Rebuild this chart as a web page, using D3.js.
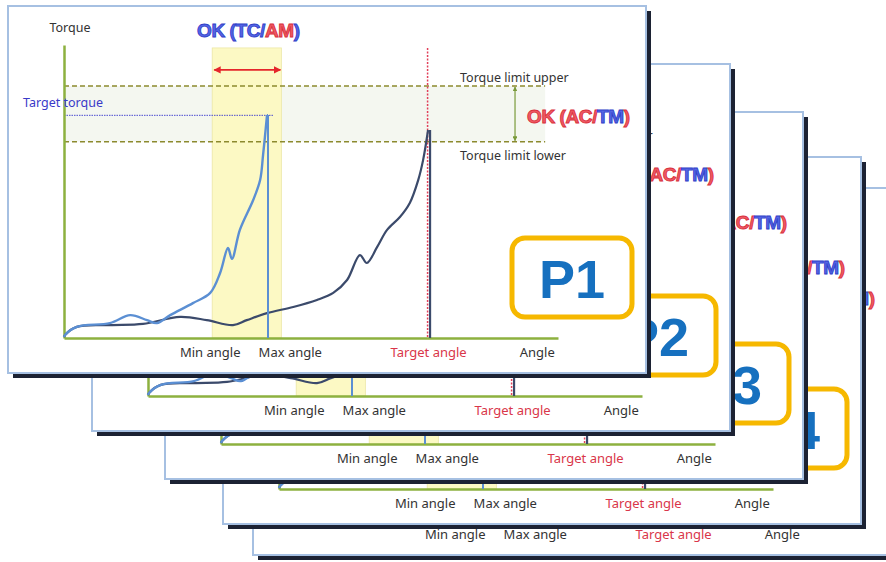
<!DOCTYPE html>
<html>
<head>
<meta charset="utf-8">
<script src="https://cdn.jsdelivr.net/npm/d3@7"></script>
<style>
body { margin: 0; background: #fff; }
</style>
</head>
<body>
<script>
var width = 886,
    height = 562;

// tightening curves, angle (0-100) vs torque (0-100)
var tcAmAngle  = [0, 0.2, 2.6, 9.3, 13.4, 16.8, 18.8, 21.5, 26.1, 29.6, 31.6, 33.2, 34.0, 35.6, 38.3, 39.7, 40.3, 41.1];
var tcAmTorque = [0.3, 1.0, 3.8, 5.1, 7.8, 6.1, 5.1, 7.8, 11.9, 15.4, 22.2, 30.7, 27.0, 36.9, 47.1, 53.9, 62.5, 76.1];

var acTmAngle  = [0, 0.2, 2.6, 9.3, 16.0, 23.5, 28.9, 34.2, 37.0, 41.1, 46.4, 51.2, 54.5, 57.3, 59.9, 61.3, 63.4, 65.4, 68.0, 70.0, 71.7, 72.7, 73.7];
var acTmTorque = [0.3, 1.0, 3.8, 4.4, 4.8, 7.2, 6.1, 4.4, 6.1, 8.5, 10.6, 13.0, 15.4, 19.8, 28.3, 25.6, 31.1, 36.9, 41.3, 46.1, 53.9, 60.8, 71.0];

var minAngle = 30, maxAngle = 44, targetAngle = 73.6, endAngle = 97.4;
var tcStopAngle = 41.3, acStopAngle = 74.1;
var targetTorque = 76, limitUpper = 86, limitLower = 67, arrowTorque = 91.5, limitArrowAngle = 91.3;

var tickAngles = [29.5, 45.7, 73.7, 95.7];
var tickLabels = ["Min angle", "Max angle", "Target angle", "Angle"];
var cardLabels = ["P1", "P2", "P3", "P4", ""];

// layout of the stacked cards
var cardShift = [[0, 0], [84, 58], [157, 106], [215, 151], [245, 182]];
var cardW = 638, cardH = 367;

var green = "#8db13f", olive = "#8c8a2e", lightBlue = "#5b8fd3", navy = "#3b4a6b";
var sans = "'Noto Sans', 'Open Sans', sans-serif",
    arial = "'Liberation Sans', Arial, sans-serif";

var svg = d3.select("body").append("svg")
    .attr("width", width)
    .attr("height", height);

svg.append("rect").attr("width", width).attr("height", height).attr("fill", "#fff");

var defs = svg.append("defs");
function marker(id, color, size) {
    var m = defs.append("marker")
        .attr("id", id)
        .attr("viewBox", "0 0 10 10")
        .attr("refX", 9).attr("refY", 5)
        .attr("markerWidth", size).attr("markerHeight", size)
        .attr("orient", "auto-start-reverse");
    m.append("path").attr("d", "M0,0L10,5L0,10z").attr("fill", color);
}
marker("arrRed", "#e5262b", 4);
marker("arrGreen", "#7a9a3a", 4);

var x = d3.scaleLinear().domain([0, 100]).range([64, 558]);
var y = d3.scaleLinear().domain([0, 100]).range([338, 45]);

var line = d3.line()
    .x(function (d) { return x(d[0]); })
    .y(function (d) { return y(d[1]); })
    .curve(d3.curveCatmullRom.alpha(0.5));

var tcAm = tcAmAngle.map(function (a, i) { return [a, tcAmTorque[i]]; });
var acTm = acTmAngle.map(function (a, i) { return [a, acTmTorque[i]]; });

function okText(g, px, py, parts) {
    var t = g.append("text")
        .attr("x", px).attr("y", py)
        .style("font-family", arial)
        .style("font-weight", "bold")
        .style("font-size", "19px")
        .style("letter-spacing", "-0.4px");
    parts.forEach(function (p) {
        t.append("tspan")
            .text(p[0])
            .attr("fill", p[1] === "b" ? "#5566e6" : "#f05a64")
            .attr("stroke", p[1] === "b" ? "#3040c8" : "#d8303c")
            .attr("stroke-width", 0.9);
    });
}

function label(g, str, px, py, color) {
    return g.append("text").text(str)
        .attr("x", px).attr("y", py)
        .style("font-family", sans)
        .style("font-size", "12.5px")
        .attr("fill", color || "#333");
}

function drawCard(g, name) {
    // card + shadow
    g.append("rect")
        .attr("x", 8 + 5).attr("y", 6 + 5)
        .attr("width", cardW).attr("height", cardH)
        .attr("fill", "#1c2233");
    g.append("rect")
        .attr("x", 8).attr("y", 6)
        .attr("width", cardW).attr("height", cardH)
        .attr("fill", "#fff")
        .attr("stroke", "#a6c0e2")
        .attr("stroke-width", 2);

    // torque limit band
    g.append("rect")
        .attr("x", x(0)).attr("y", y(limitUpper))
        .attr("width", x(endAngle) - x(0))
        .attr("height", y(limitLower) - y(limitUpper))
        .attr("fill", "#f0f3ea")
        .attr("opacity", 0.7);

    // OK angle window
    g.append("rect")
        .attr("x", x(minAngle)).attr("y", y(99))
        .attr("width", x(maxAngle) - x(minAngle))
        .attr("height", y(0) - y(99))
        .attr("fill", "#fcf9c4")
        .attr("stroke", "#ece7a6")
        .attr("stroke-width", 0.8);

    [limitUpper, limitLower].forEach(function (v) {
        g.append("line")
            .attr("x1", x(0)).attr("x2", x(endAngle))
            .attr("y1", y(v)).attr("y2", y(v))
            .attr("stroke", olive)
            .attr("stroke-width", 1.5)
            .attr("stroke-dasharray", "5,3");
    });

    g.append("line")
        .attr("x1", x(0)).attr("x2", x(42.5))
        .attr("y1", y(targetTorque)).attr("y2", y(targetTorque))
        .attr("stroke", "#4a4ad0")
        .attr("stroke-width", 1)
        .attr("stroke-dasharray", "1.5,1");

    // axes
    var xAxis = d3.axisBottom(x)
        .tickValues(tickAngles)
        .tickFormat(function (d, i) { return tickLabels[i]; })
        .tickSize(0).tickSizeOuter(0);
    var ax = g.append("g").attr("transform", "translate(0," + y(0) + ")").call(xAxis);
    ax.select(".domain").attr("stroke", green).attr("stroke-width", 2.5);
    ax.selectAll("text")
        .attr("y", 19).attr("dy", 0)
        .style("font-family", sans)
        .style("font-size", "13px")
        .attr("fill", function (d, i) { return i === 2 ? "#d9364a" : "#333"; });

    var ay = g.append("g").attr("transform", "translate(" + x(0) + ",0)")
        .call(d3.axisLeft(y).tickValues([]).tickSizeOuter(0));
    ay.select(".domain").attr("stroke", green).attr("stroke-width", 2.5);

    // target angle marker
    g.append("line")
        .attr("x1", x(acStopAngle)).attr("x2", x(acStopAngle))
        .attr("y1", y(acTmTorque[acTmTorque.length - 1])).attr("y2", y(0))
        .attr("stroke", navy).attr("stroke-width", 2.2);
    g.append("line")
        .attr("x1", x(targetAngle)).attr("x2", x(targetAngle))
        .attr("y1", y(99)).attr("y2", y(0))
        .attr("stroke", "#e2405a").attr("stroke-width", 1.5)
        .attr("stroke-dasharray", "2,1.5");

    // curves
    g.append("path").datum(acTm)
        .attr("d", line).attr("fill", "none")
        .attr("stroke", navy).attr("stroke-width", 2.2);
    g.append("path").datum(tcAm)
        .attr("d", line).attr("fill", "none")
        .attr("stroke", lightBlue).attr("stroke-width", 2.4);
    g.append("line")
        .attr("x1", x(tcStopAngle)).attr("x2", x(tcStopAngle))
        .attr("y1", y(tcAmTorque[tcAmTorque.length - 1])).attr("y2", y(0))
        .attr("stroke", lightBlue).attr("stroke-width", 2);
    g.append("line")
        .attr("x1", x(tcAmAngle[tcAmAngle.length - 1])).attr("x2", x(tcStopAngle))
        .attr("y1", y(tcAmTorque[tcAmTorque.length - 1])).attr("y2", y(tcAmTorque[tcAmTorque.length - 1]))
        .attr("stroke", lightBlue).attr("stroke-width", 2);

    // arrows
    g.append("line")
        .attr("x1", x(minAngle) + 2).attr("x2", x(maxAngle) - 1)
        .attr("y1", y(arrowTorque)).attr("y2", y(arrowTorque))
        .attr("stroke", "#e5262b").attr("stroke-width", 1.8)
        .attr("marker-start", "url(#arrRed)").attr("marker-end", "url(#arrRed)");
    g.append("line")
        .attr("x1", x(limitArrowAngle)).attr("x2", x(limitArrowAngle))
        .attr("y1", y(limitUpper) + 1).attr("y2", y(limitLower) - 1)
        .attr("stroke", "#7a9a3a").attr("stroke-width", 1.2)
        .attr("marker-start", "url(#arrGreen)").attr("marker-end", "url(#arrGreen)");

    // labels
    label(g, "Torque", 70, 32).attr("text-anchor", "middle");
    label(g, "Target torque", 23, 107, "#3a3ac8");
    label(g, "Torque limit upper", 460, 82);
    label(g, "Torque limit lower", 460, 160);

    okText(g, 197, 37, [["OK (TC/", "b"], ["AM", "r"], [")", "b"]]);
    okText(g, 527, 123, [["OK (AC/", "r"], ["TM", "b"], [")", "r"]]);

    // badge
    if (name) {
        g.append("rect")
            .attr("x", 512).attr("y", 238)
            .attr("width", 120).attr("height", 79)
            .attr("rx", 13)
            .attr("fill", "#fff")
            .attr("stroke", "#f6b800")
            .attr("stroke-width", 5);
        g.append("text").text(name)
            .attr("x", 572).attr("y", 298)
            .attr("text-anchor", "middle")
            .style("font-family", arial)
            .style("font-weight", "bold")
            .style("font-size", "54px")
            .attr("fill", "#1670bf");
    }
}

// back to front
var cards = [];
for (var i = cardLabels.length - 1; i >= 0; i--) {
    var card = svg.append("g")
        .attr("class", "card")
        .attr("transform", "translate(" + cardShift[i][0] + "," + cardShift[i][1] + ")");
    drawCard(card, cardLabels[i]);
    cards[i] = card;
}

// drop texts that sit completely under a card in front of them
cards.forEach(function (card, i) {
    if (i === 0) return;
    card.selectAll("text").each(function () {
        var r = this.getBoundingClientRect();
        for (var j = 0; j < i; j++) {
            var cx0 = 8 + cardShift[j][0], cy0 = 6 + cardShift[j][1];
            if (r.left >= cx0 && r.right <= cx0 + cardW + 5 &&
                r.top >= cy0 && r.bottom <= cy0 + cardH + 5) {
                d3.select(this).remove();
                return;
            }
        }
    });
});
</script>
</body>
</html>
